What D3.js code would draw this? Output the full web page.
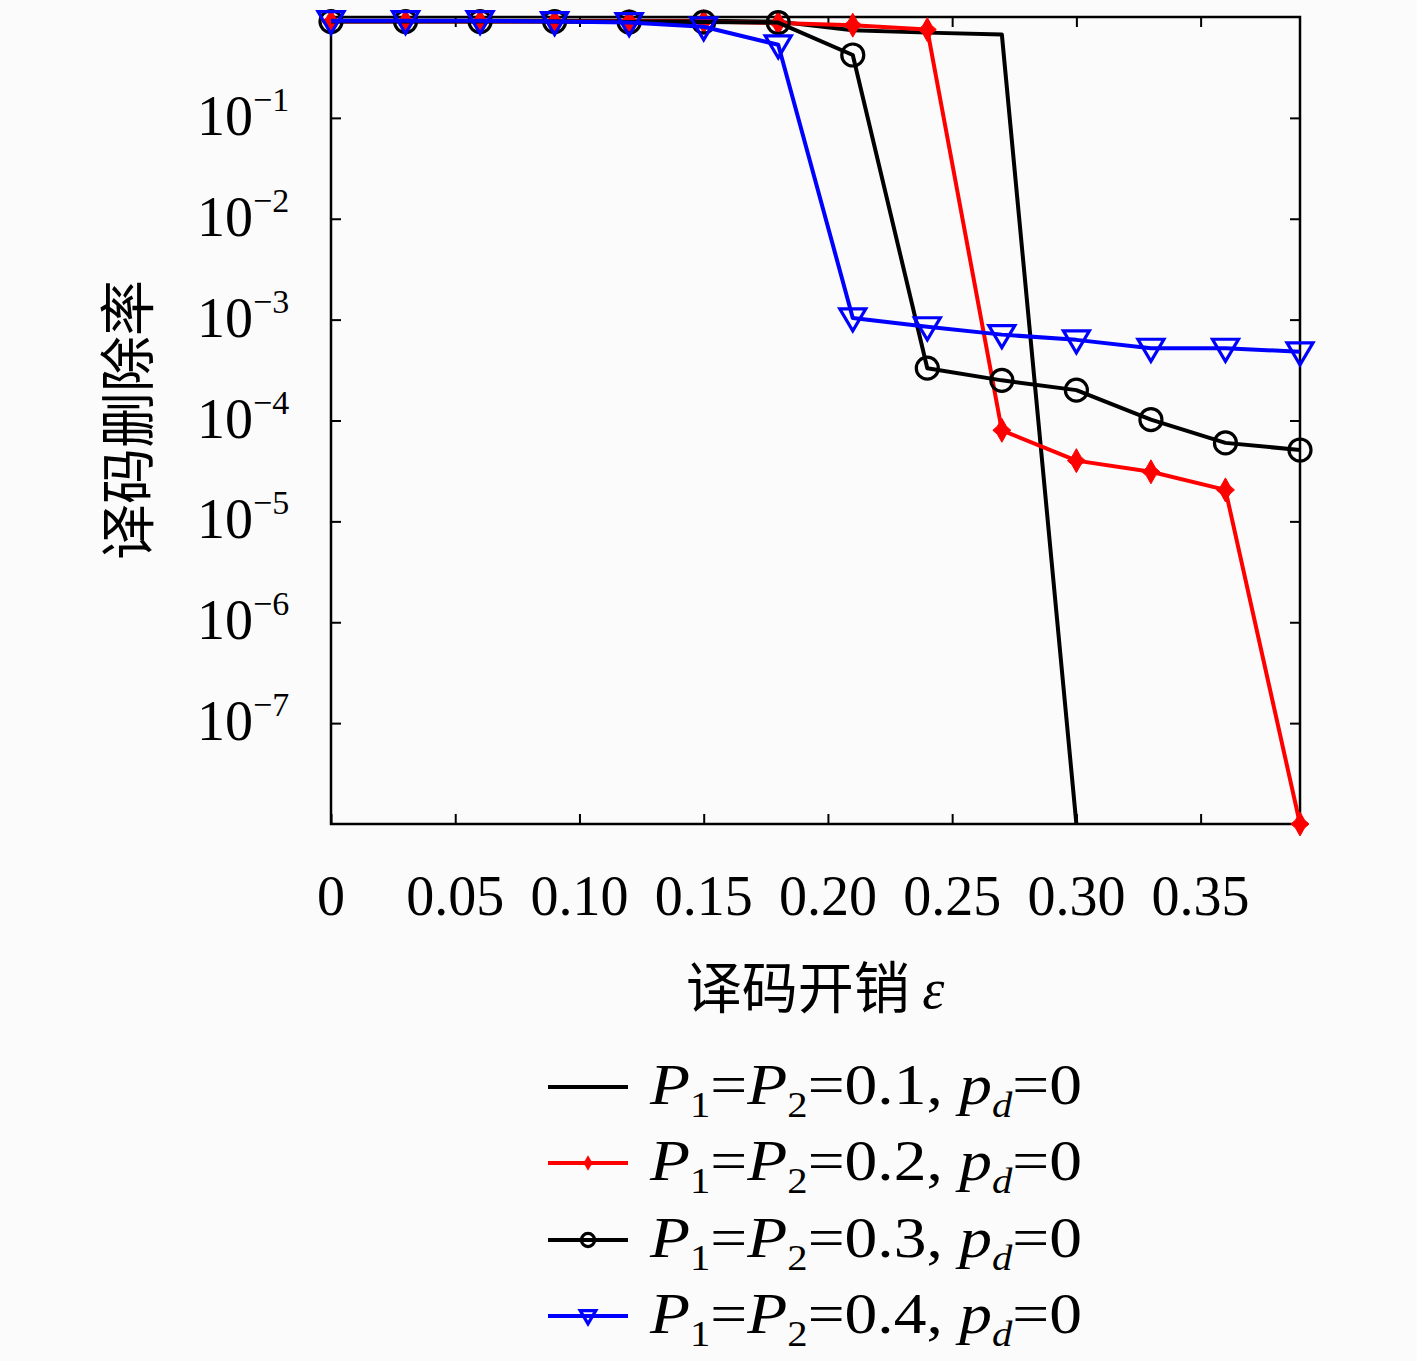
<!DOCTYPE html>
<html>
<head>
<meta charset="utf-8">
<script src="https://cdn.jsdelivr.net/npm/d3@7"></script>
<style>
  body { margin: 0; background: #fbfbfb; }
  text { font-family: "Liberation Serif", "DejaVu Serif", serif; fill: #000; }
  .cjk { font-family: "Noto Sans CJK SC", sans-serif; }
</style>
</head>
<body>
<svg id="chart" width="1417" height="1361"></svg>
<script>
// données
const overhead = [0, 0.03, 0.06, 0.09, 0.12, 0.15, 0.18, 0.21, 0.24, 0.27, 0.30, 0.33, 0.36, 0.39];
const rateP01 = [0.92, 0.92, 0.92, 0.92, 0.92, 0.92, 0.9, 0.74, 0.7, 0.67, 1e-8, null, null, null];
const rateP02 = [0.9, 0.9, 0.9, 0.9, 0.9, 0.9, 0.87, 0.83, 0.75, 8.0e-5, 4.0e-5, 3.1e-5, 2.05e-5, 1e-8];
const rateP03 = [0.9, 0.9, 0.9, 0.9, 0.89, 0.89, 0.88, 0.42, 3.3e-4, 2.5e-4, 2.0e-4, 1.02e-4, 6.0e-5, 5.1e-5];
const rateP04 = [0.92, 0.92, 0.92, 0.9, 0.88, 0.8, 0.53, 1.04e-3, 8.5e-4, 7.1e-4, 6.3e-4, 5.2e-4, 5.2e-4, 4.8e-4];

const xTicks = [0, 0.05, 0.10, 0.15, 0.20, 0.25, 0.30, 0.35];
const xTickLabels = ["0", "0.05", "0.10", "0.15", "0.20", "0.25", "0.30", "0.35"];
const yTicks = [1e-1, 1e-2, 1e-3, 1e-4, 1e-5, 1e-6, 1e-7];
const yExponents = ["1", "2", "3", "4", "5", "6", "7"];
const legendValues = ["0.1", "0.2", "0.3", "0.4"];

const svg = d3.select("#chart");
const x = d3.scaleLinear().domain([0, 0.39]).range([331, 1300]);
const y = d3.scaleLog().domain([1e-8, 1]).range([824, 17]);

// ticks vers l'intérieur sur les 4 côtés
function styleAxis(g) {
  g.select(".domain").remove();
  g.selectAll(".tick line").attr("stroke", "#000").attr("stroke-width", 2);
}
svg.append("g").attr("transform", "translate(0,824)")
  .call(d3.axisBottom(x).tickValues(xTicks).tickSize(-10).tickFormat("")).call(styleAxis);
svg.append("g").attr("transform", "translate(0,17)")
  .call(d3.axisTop(x).tickValues(xTicks).tickSize(-10).tickFormat("")).call(styleAxis);
svg.append("g").attr("transform", "translate(331,0)")
  .call(d3.axisLeft(y).tickValues(yTicks).tickSize(-10).tickFormat("")).call(styleAxis);
svg.append("g").attr("transform", "translate(1300,0)")
  .call(d3.axisRight(y).tickValues(yTicks).tickSize(-10).tickFormat("")).call(styleAxis);

svg.append("rect")
  .attr("x", x(0)).attr("y", y(1))
  .attr("width", x(0.39) - x(0)).attr("height", y(1e-8) - y(1))
  .attr("fill", "none").attr("stroke", "#000").attr("stroke-width", 2.5);

// labels des ticks
svg.selectAll(".xlab").data(xTicks).join("text")
  .attr("class", "xlab")
  .attr("x", d => x(d)).attr("y", 915)
  .attr("text-anchor", "middle").attr("font-size", 56)
  .text((d, i) => xTickLabels[i]);

const ylab = svg.selectAll(".ylab").data(yTicks).join("text")
  .attr("class", "ylab")
  .attr("x", 197).attr("y", d => y(d) + 17)
  .attr("font-size", 56);
ylab.append("tspan").text("10");
ylab.append("tspan").attr("font-size", 34).attr("dy", -24)
  .text((d, i) => "\u2212" + yExponents[i]);

// titres
svg.append("text").attr("class", "cjk")
  .attr("transform", "translate(148,420) rotate(-90)")
  .attr("text-anchor", "middle").attr("font-size", 56)
  .text("译码删除率");

const xt = svg.append("text").attr("class", "cjk")
  .attr("x", 815).attr("y", 1008)
  .attr("text-anchor", "middle").attr("font-size", 56);
xt.append("tspan").text("译码开销\u00a0");
xt.append("tspan").attr("font-family", "Liberation Serif").attr("font-style", "italic")
  .text("\u03b5");

// marqueurs
const star = "M0,-12 L4.5,-4 L9,0 L4.5,4 L0,12 L-4.5,4 L-9,0 L-4.5,-4 Z";
const tri = "M-13,-9 L13,-9 L0,13 Z";

const series = [
  { values: rateP01, color: "#000", marker: null },
  { values: rateP02, color: "#ff0000", marker: "star" },
  { values: rateP03, color: "#000", marker: "circle" },
  { values: rateP04, color: "#0000ff", marker: "tri" }
];

svg.append("clipPath").attr("id", "plot-clip")
  .append("rect").attr("x", 331).attr("y", 17).attr("width", 969).attr("height", 807);

const line = d3.line()
  .defined(d => d != null)
  .x((d, i) => x(overhead[i]))
  .y(d => y(d));

function drawMarker(sel, type, color, k) {
  if (type === "circle") {
    sel.append("circle").attr("r", 11 * k)
      .attr("fill", "none").attr("stroke", color).attr("stroke-width", 3.2);
  } else if (type === "star") {
    sel.append("path").attr("d", star).attr("transform", "scale(" + k + ")")
      .attr("fill", color).attr("stroke", color).attr("stroke-width", 1);
  } else if (type === "tri") {
    sel.append("path").attr("d", tri).attr("transform", "scale(" + k + ")")
      .attr("fill", "none").attr("stroke", color).attr("stroke-width", 3.2 / k);
  }
}

series.forEach(s => {
  svg.append("path")
    .attr("clip-path", "url(#plot-clip)")
    .attr("d", line(s.values))
    .attr("fill", "none").attr("stroke", s.color).attr("stroke-width", 4)
    .attr("stroke-linejoin", "round");
  if (s.marker) {
    const pts = s.values.map((v, i) => [overhead[i], v]).filter(p => p[1] != null);
    const g = svg.append("g").selectAll("g").data(pts).join("g")
      .attr("transform", d => "translate(" + x(d[0]) + "," + y(d[1]) + ")");
    drawMarker(g, s.marker, s.color, 1);
  }
});

// légende
const rowsY = [1087, 1163, 1240, 1316];
series.forEach((s, i) => {
  const ry = rowsY[i];
  svg.append("line").attr("x1", 548).attr("x2", 628).attr("y1", ry).attr("y2", ry)
    .attr("stroke", s.color).attr("stroke-width", 4);
  if (s.marker) {
    const g = svg.append("g").attr("transform", "translate(588," + ry + ")");
    drawMarker(g, s.marker, s.color, 0.6);
  }
  const t = svg.append("text").attr("x", 650).attr("y", ry + 17).attr("font-size", 58)
    .attr("textLength", 432).attr("lengthAdjust", "spacingAndGlyphs");
  const parts = [["P", "i"], ["1", "s"], ["=", ""], ["P", "i"], ["2", "s"],
                 ["=" + legendValues[i] + ",\u00a0", ""], ["p", "i"], ["d", "si"], ["=0", ""]];
  let low = false;
  parts.forEach(p => {
    const sub = p[1].includes("s");
    const ts = t.append("tspan").text(p[0]);
    if (p[1].includes("i")) ts.attr("font-style", "italic");
    if (sub) ts.attr("font-size", 36);
    if (sub && !low) { ts.attr("dy", 13); low = true; }
    else if (!sub && low) { ts.attr("dy", -13); low = false; }
  });
});
</script>
</body>
</html>
